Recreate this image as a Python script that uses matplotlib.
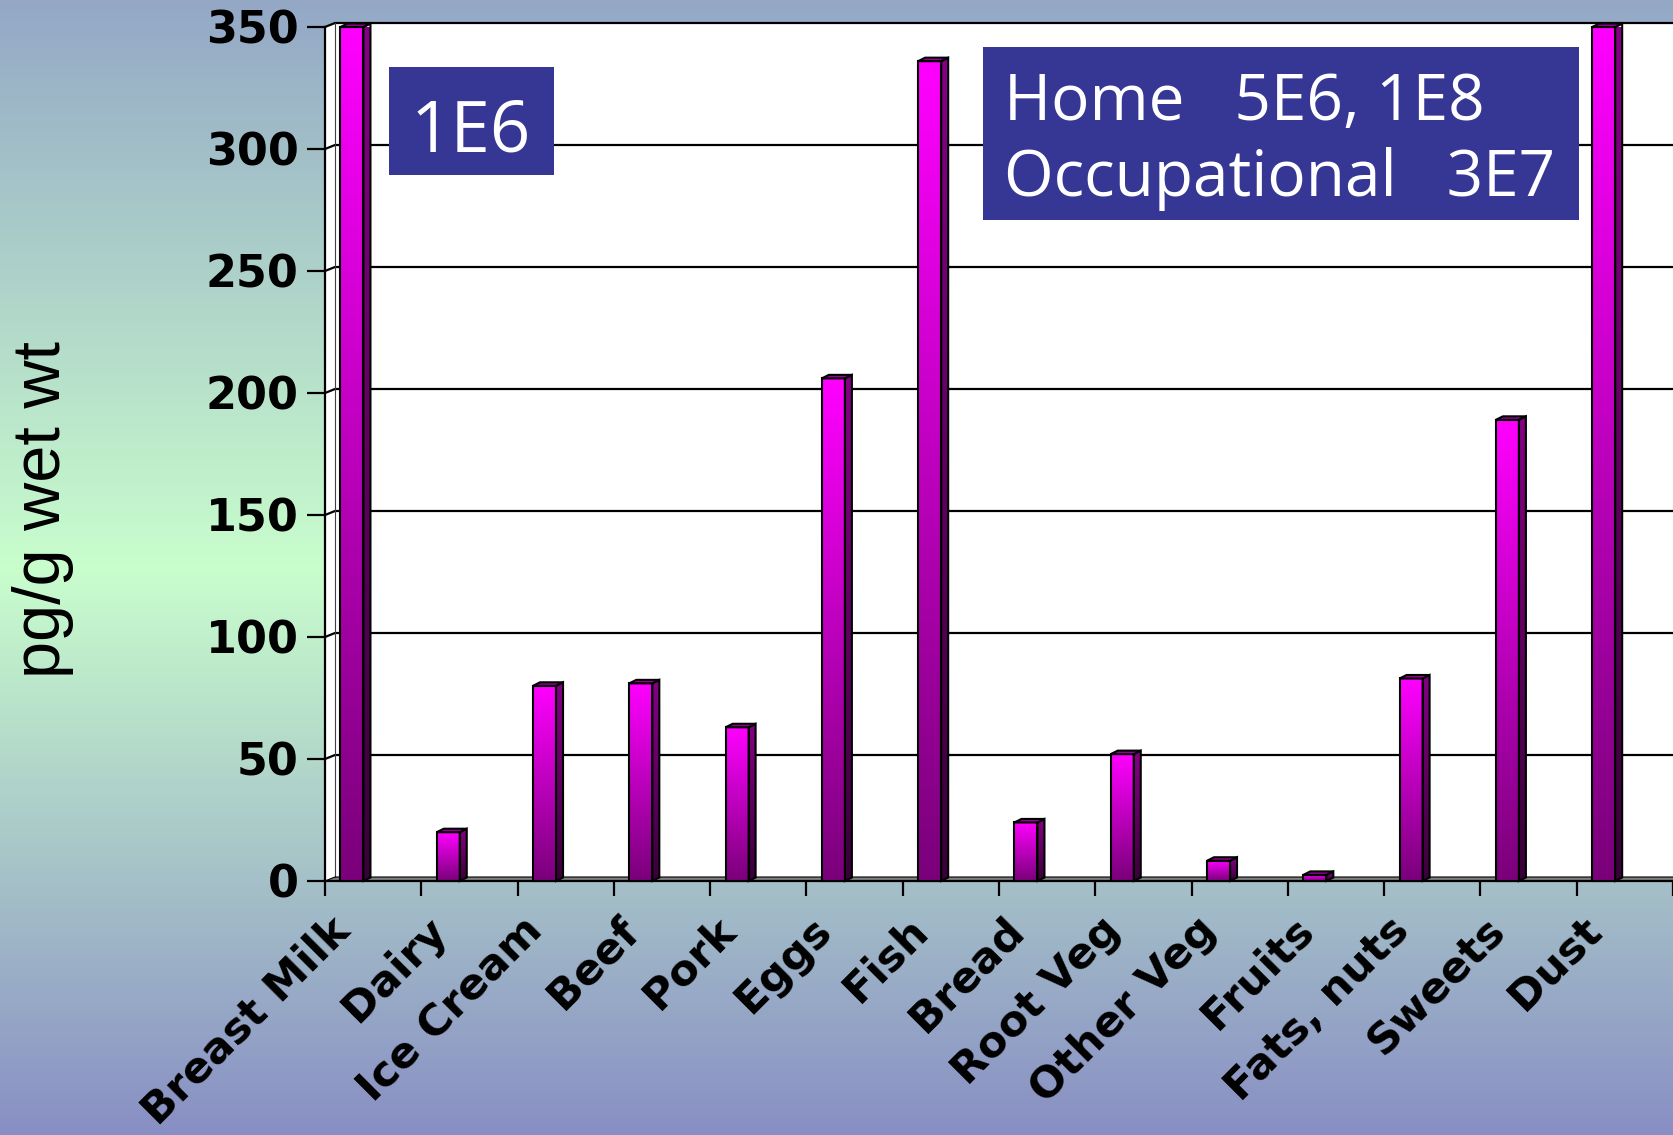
import numpy as np
import matplotlib.pyplot as plt
from matplotlib.colors import LinearSegmentedColormap
from matplotlib.patches import Polygon, Rectangle

# data
categories = ["Breast Milk", "Dairy", "Ice Cream", "Beef", "Pork", "Eggs", "Fish",
              "Bread", "Root Veg", "Other Veg", "Fruits", "Fats, nuts", "Sweets", "Dust"]
values = [350, 20, 80, 81, 63, 206, 336, 24, 52, 8.3, 2.5, 83, 189, 350]
yticks = [0, 50, 100, 150, 200, 250, 300, 350]
ylabel = "pg/g wet wt"
small_box = "1E6"
big_box = ["Home   5E6, 1E8", "Occupational   3E7"]

W, H = 1673, 1135
fig = plt.figure(figsize=(W / 100, H / 100), dpi=100)

# slide background gradient
bg = fig.add_axes([0, 0, 1, 1], zorder=-10)
bg_cmap = LinearSegmentedColormap.from_list(
    "bg", [(0, "#94a8c6"), (0.5, "#c9fecd"), (1, "#888fc4")])
bg.imshow(np.linspace(0, 1, 256).reshape(-1, 1), aspect="auto", cmap=bg_cmap,
          extent=[0, 1, 0, 1], origin="upper")
bg.axis("off")

# plot area (pixel geometry of the front plane)
left, right, top, bottom = 325, 1673, 27, 881
ax = fig.add_axes([left / W, 1 - bottom / H, (right - left) / W, (bottom - top) / H])
x = np.arange(len(categories))
off = 0.28
x0, x1 = -off, len(categories) - off
ymax = yticks[-1]
ax.set_xlim(x0, x1)
ax.set_ylim(0, ymax)
ax.patch.set_visible(False)
for s in ax.spines.values():
    s.set_visible(False)

px_x = (right - left) / (x1 - x0)
px_y = (bottom - top) / ymax
dxw, dyw = 10 / px_x, 4 / px_y      # wall depth
dxb, dyb = 7 / px_x, 3.5 / px_y     # bar depth

# walls and floor
ax.add_patch(Polygon([(x0, 0), (x0 + dxw, dyw), (x0 + dxw, ymax + dyw), (x0, ymax)],
                     fc="white", ec="none", clip_on=False, zorder=0))
ax.add_patch(Rectangle((x0 + dxw, dyw), x1 - x0 - dxw, ymax, fc="white", ec="none",
                       clip_on=False, zorder=0))
ax.add_patch(Polygon([(x0, 0), (x0 + dxw, dyw), (x1, dyw), (x1, 0)],
                     fc="#7f7f7f", ec="none", clip_on=False, zorder=1))
for yv in yticks[1:]:
    ax.plot([x0, x0 + dxw, x1], [yv, yv + dyw, yv + dyw], color="black", lw=1.6,
            clip_on=False, zorder=1)
ax.plot([x0, x0], [0, ymax], color="black", lw=1.6, clip_on=False, zorder=2)
ax.plot([x0 + dxw, x0 + dxw], [dyw, ymax + dyw], color="#404040", lw=0.8, clip_on=False, zorder=1)
ax.plot([x0, x1], [0, 0], color="black", lw=1.6, clip_on=False, zorder=2)
ax.plot([x0, x0 + dxw, x1], [0, dyw, dyw], color="black", lw=0.8, clip_on=False, zorder=1)

# bars
front_cmap = LinearSegmentedColormap.from_list("front", ["#7a007a", "#ff00ff"])
side_cmap = LinearSegmentedColormap.from_list("side", ["#3a003a", "#850085"])
grad = np.linspace(0, 1, 256).reshape(-1, 1)
bw = 23 / px_x
bars = ax.bar(x, values, width=bw, color="none", edgecolor="black", linewidth=1.5,
              zorder=5, clip_on=False)
for b in bars:
    bx, bh = b.get_x(), b.get_height()
    side = Polygon([(bx + bw, 0), (bx + bw + dxb, dyb), (bx + bw + dxb, bh + dyb), (bx + bw, bh)],
                   fc="none", ec="black", lw=1.5, clip_on=False, zorder=5)
    ax.add_patch(side)
    ax.imshow(grad, extent=[bx + bw, bx + bw + dxb, 0, bh + dyb], origin="lower",
              aspect="auto", cmap=side_cmap, clip_path=side, zorder=3)
    ax.add_patch(Polygon([(bx, bh), (bx + dxb, bh + dyb), (bx + bw + dxb, bh + dyb), (bx + bw, bh)],
                         fc="#980098", ec="black", lw=1.5, clip_on=False, zorder=5))
    im = ax.imshow(grad, extent=[bx, bx + bw, 0, bh], origin="lower", aspect="auto",
                   cmap=front_cmap, zorder=4)
    im.set_clip_path(b)
ax.set_xlim(x0, x1)
ax.set_ylim(0, ymax)

# ticks
ax.set_yticks(yticks)
ax.set_yticklabels([str(v) for v in yticks], fontsize=32, fontweight="bold",
                   family="DejaVu Sans")
ax.tick_params(axis="y", length=13, width=1.6, pad=6)
ax.set_xticks(np.arange(len(categories) + 1) - off)
ax.set_xticklabels([])
ax.set_xticks(x, minor=True)
ax.set_xticklabels(categories, minor=True, rotation=45, ha="right", va="baseline",
                   rotation_mode="anchor", fontsize=31, fontweight="bold",
                   family="DejaVu Sans")
ax.tick_params(axis="x", which="major", length=11, width=1.6)
ax.tick_params(axis="x", which="minor", length=0, pad=37)

fig.text(43 / W, 1 - 510 / H, ylabel, rotation=90, ha="center", va="center",
         fontsize=48, family="Liberation Sans")

# annotation boxes
box_color = "#363795"
fig.add_artist(Rectangle((389 / W, 1 - 175 / H), (554 - 389) / W, (175 - 67) / H,
                         transform=fig.transFigure, fc=box_color, ec="none", zorder=6))
fig.text(411 / W, 1 - 151.5 / H, small_box, ha="left", va="baseline", fontsize=51,
         family="Open Sans", color="white", zorder=7)
fig.add_artist(Rectangle((983 / W, 1 - 220 / H), (1579 - 983) / W, (220 - 47) / H,
                         transform=fig.transFigure, fc=box_color, ec="none", zorder=6))
fig.text(1004 / W, 1 - 119.5 / H, big_box[0], ha="left", va="baseline", fontsize=46,
         family="Open Sans", color="white", zorder=7)
fig.text(1004 / W, 1 - 196 / H, big_box[1], ha="left", va="baseline", fontsize=46,
         family="Open Sans", color="white", zorder=7)

fig.savefig("out.png", dpi=100)
